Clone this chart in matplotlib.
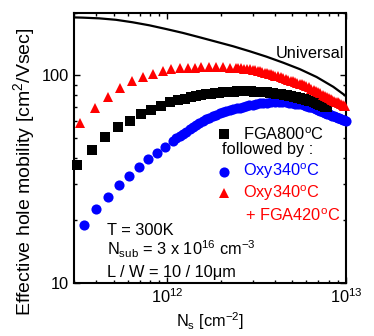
import numpy as np
import matplotlib
matplotlib.use('Agg')
import matplotlib.pyplot as plt
from matplotlib.ticker import LogLocator, NullFormatter

plt.rcParams['font.family'] = ['Liberation Sans', 'DejaVu Sans']
plt.rcParams['mathtext.fontset'] = 'custom'
plt.rcParams['mathtext.rm'] = 'Liberation Sans'
plt.rcParams['mathtext.it'] = 'Liberation Sans:italic'
plt.rcParams['mathtext.bf'] = 'Liberation Sans:bold'

# Ns in units of 1e12 cm^-2, mobility in cm^2/Vs

# universal curve
ns_univ = [0.296, 0.334, 0.415, 0.515, 0.638, 0.793, 0.984, 1.22, 1.51, 1.88,
           2.33, 2.89, 3.58, 4.45, 5.52, 6.85, 8.49, 10.0]
mu_univ = [190, 189.5, 188, 185, 180, 174, 167, 160, 152.5, 145,
           138, 130.5, 123, 115, 107, 98.1, 88, 79.4]

# FGA800C
ns_fga = [0.313, 0.378, 0.445, 0.526, 0.616, 0.710, 0.808, 0.919, 1.03, 1.15,
          1.25, 1.35, 1.45, 1.55, 1.65, 1.75, 1.85, 1.95, 2.05, 2.15,
          2.25, 2.35, 2.45, 2.55, 2.65, 2.75, 2.85, 2.95, 3.05, 3.15,
          3.25, 3.35, 3.45, 3.6, 3.75, 3.9, 4.05, 4.2, 4.35, 4.5,
          4.65, 4.8, 4.95, 5.1, 5.25, 5.4, 5.55, 5.7, 5.85, 6.0,
          6.2, 6.4, 6.6, 6.8, 7.0, 7.2, 7.4, 7.6, 7.8]
mu_fga = [37.1, 43.6, 50.6, 56.1, 60.5, 64.9, 68.4, 71.5, 74.1, 75.7,
          77.2, 78.3, 79.3, 80.2, 80.9, 81.5, 82.0, 82.4, 82.8, 83.1,
          83.3, 83.5, 83.6, 83.7, 83.7, 83.7, 83.7, 83.6, 83.5, 83.4,
          83.3, 83.1, 83.0, 82.7, 82.4, 82.0, 81.6, 81.2, 80.9, 80.6,
          80.2, 79.8, 79.3, 78.9, 78.4, 77.9, 77.5, 77.0, 76.5, 76.0,
          75.4, 74.8, 74.1, 73.3, 72.5, 71.7, 71.0, 70.5, 70.0]

# Oxy340C
ns_oxy = [0.343, 0.399, 0.463, 0.533, 0.612, 0.697, 0.782, 0.873, 0.968,
          1.07, 1.12, 1.17, 1.22, 1.27, 1.33, 1.39, 1.45, 1.51, 1.58,
          1.65, 1.72, 1.80, 1.88, 1.96, 2.05, 2.14, 2.24, 2.34, 2.44,
          2.54, 2.65, 2.76, 2.88, 3.0, 3.15, 3.3, 3.45, 3.6, 3.8,
          4.0, 4.2, 4.4, 4.6, 4.8, 5.0, 5.2, 5.4, 5.6, 5.8,
          6.0, 6.2, 6.4, 6.6, 6.8, 7.0, 7.2, 7.4, 7.6, 7.8,
          8.0, 8.2, 8.4, 8.6, 8.8, 9.0, 9.2, 9.4, 9.6, 9.8, 10.0]
mu_oxy = [19.1, 22.6, 26.0, 29.6, 32.9, 36.1, 39.3, 42.2, 45.2,
          48.3, 49.7, 51.0, 52.3, 53.6, 55.0, 56.4, 57.6, 58.8, 60.1,
          61.3, 62.4, 63.6, 64.6, 65.5, 66.4, 67.2, 68.0, 68.7, 69.3,
          69.8, 70.4, 71.0, 71.7, 72.3, 72.8, 73.3, 73.6, 73.8, 74.1,
          74.3, 74.4, 74.4, 74.2, 73.9, 73.5, 73.1, 72.8, 72.4, 71.9,
          71.3, 70.6, 70.0, 69.4, 68.8, 68.1, 67.3, 66.6, 65.9, 65.4,
          64.9, 64.4, 63.9, 63.4, 62.9, 62.5, 62.0, 61.6, 61.2, 60.8, 60.4]

# Oxy340C + FGA420C
ns_oxyfga = [0.326, 0.391, 0.465, 0.545, 0.630, 0.726, 0.831, 0.946, 1.053, 1.17,
             1.30, 1.42, 1.55, 1.71, 1.86, 2.05, 2.23, 2.43,
             2.5, 2.6, 2.7, 2.8, 2.9, 3.0, 3.1, 3.2, 3.3, 3.4,
             3.5, 3.6, 3.7, 3.8, 3.9, 4.0, 4.15, 4.3, 4.45, 4.6,
             4.75, 4.9, 5.05, 5.2, 5.35, 5.5, 5.65, 5.8, 6.0, 6.2,
             6.4, 6.6, 6.8, 7.0, 7.2, 7.4, 7.6, 7.8, 8.0, 8.2,
             8.4, 8.6, 8.8, 9.0, 9.2, 9.4, 9.6, 9.8, 9.9]
mu_oxyfga = [58.6, 69.8, 78.5, 86.9, 93.5, 97.8, 101.4, 104.5, 107.3, 108.4,
             108.5, 108.9, 109.3, 109.3, 109.3, 109.3, 109.0, 108.7,
             108.5, 108.2, 107.8, 107.3, 106.8, 106.2, 105.6, 105.0, 104.3, 103.6,
             102.9, 102.3, 101.6, 101.0, 100.4, 99.7, 98.8, 97.9, 97.0, 96.1,
             95.3, 94.2, 93.5, 92.7, 91.9, 91.2, 90.5, 89.7, 88.6, 87.4,
             86.3, 85.3, 84.1, 82.9, 81.7, 80.6, 79.6, 78.6, 77.8, 77.0,
             76.3, 75.5, 74.7, 74.0, 73.3, 72.6, 71.9, 71.4, 71.1]

fig = plt.figure(figsize=(3.74, 3.36), dpi=100)
ax = fig.add_axes([0.198, 0.158, 0.727, 0.804])

ms_c, ms_s, ms_t = 7.3, 6.5, 7.3

ax.plot(np.array(ns_univ) * 1e12, mu_univ, color='black', lw=1.6, zorder=2)
ax.plot(np.array(ns_oxy) * 1e12, mu_oxy, 'o', color='#0000ff', ms=ms_c, mew=0,
        clip_on=False, zorder=3)
ax.plot(np.array(ns_fga) * 1e12, mu_fga, 's', color='black', ms=ms_s, mew=0,
        clip_on=False, zorder=4)
ax.plot(np.array(ns_oxyfga) * 1e12, mu_oxyfga, '^', color='#ff0000', ms=ms_t, mew=0,
        clip_on=False, zorder=5)

ax.set_xscale('log')
ax.set_yscale('log')
ax.set_xlim(3e11, 1e13)
ax.set_ylim(10, 200)

ax.set_yticks([10, 100])
ax.set_yticklabels(['10', '100'])
ax.yaxis.set_minor_locator(LogLocator(base=10, subs=np.arange(2, 10)))
ax.yaxis.set_minor_formatter(NullFormatter())
ax.xaxis.set_minor_formatter(NullFormatter())

ax.tick_params(which='both', direction='in', top=True, right=True, labelsize=11.8, width=1)
ax.tick_params(which='major', length=4.5)
ax.tick_params(which='minor', length=2.5)
for s in ax.spines.values():
    s.set_linewidth(1.5)

ax.set_xlabel('N$_\\mathrm{s}$ [cm$^{-2}$]', fontsize=11.8, labelpad=3)
ax.set_ylabel('Effective hole mobility [cm$^2$/Vsec]', fontsize=14)
ax.yaxis.set_label_coords(-0.135, 0.413)

# legend keys and labels
fs = 11.8
ax.plot(0.551, 0.553, 's', color='black', ms=ms_s, mew=0, transform=ax.transAxes)
ax.plot(0.551, 0.412, 'o', color='#0000ff', ms=ms_c, mew=0, transform=ax.transAxes)
ax.plot(0.553, 0.334, '^', color='#ff0000', ms=ms_t, mew=0, transform=ax.transAxes)
ax.text(0.621, 0.530, 'FGA800$^\\mathrm{o}$C', transform=ax.transAxes, fontsize=fs)
ax.text(0.543, 0.478, 'followed by :', transform=ax.transAxes, fontsize=fs)
ax.text(0.622, 0.394, 'Oxy340$^\\mathrm{o}$C', transform=ax.transAxes, fontsize=fs, color='#0000ff')
ax.text(0.622, 0.316, 'Oxy340$^\\mathrm{o}$C', transform=ax.transAxes, fontsize=fs, color='#ff0000')
ax.text(0.629, 0.231, '+ FGA420$^\\mathrm{o}$C', transform=ax.transAxes, fontsize=fs, color='#ff0000')

ax.text(0.740, 0.832, 'Universal', transform=ax.transAxes, fontsize=fs)

ax.text(0.1225, 0.178, 'T = 300K', transform=ax.transAxes, fontsize=fs)
ax.text(0.1225, 0.104, 'N$_\\mathrm{sub}$ = 3 x 10$^{16}$ cm$^{-3}$', transform=ax.transAxes, fontsize=fs)
ax.text(0.1225, 0.023, 'L / W = 10 / 10\u03bcm', transform=ax.transAxes, fontsize=fs)

fig.savefig('out.png', dpi=100)
